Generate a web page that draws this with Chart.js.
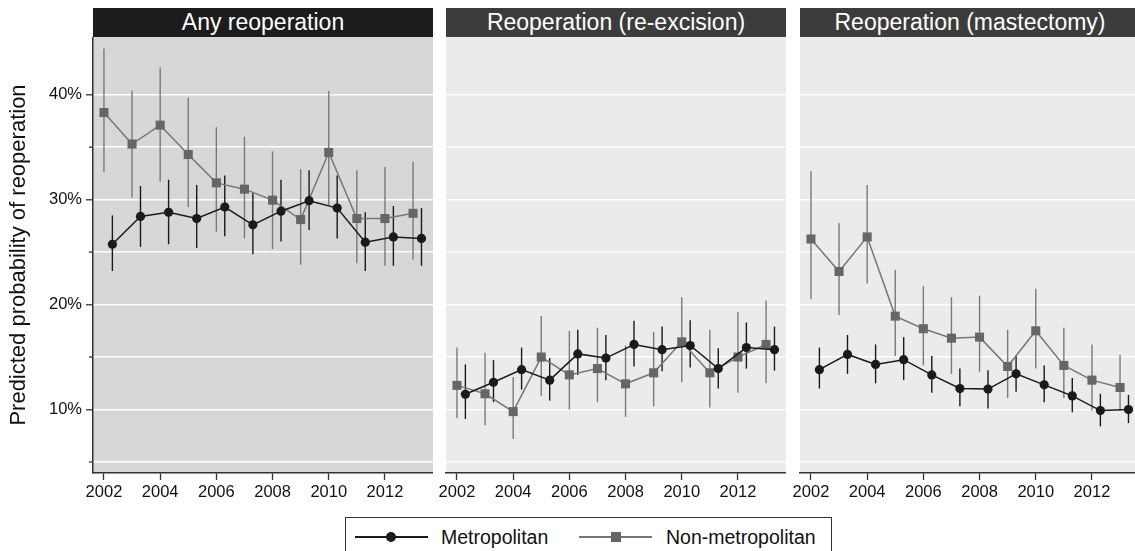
<!DOCTYPE html>
<html>
<head>
<meta charset="utf-8">
<script src="https://cdn.jsdelivr.net/npm/chart.js@4"></script>
<style>
  html, body { margin: 0; padding: 0; background: #fff; overflow: hidden; }
  body { width: 1135px; height: 551px; position: relative; font-family: "Liberation Sans", Arial, sans-serif; }
  canvas { position: absolute; top: 37px; }
  .header {
    position: absolute; top: 8px; height: 29px; line-height: 29px;
    color: #fff; font-size: 23px; text-align: center; white-space: nowrap;
  }
  #legend {
    position: absolute; left: 345px; top: 517px; width: 485px; height: 40px;
    border: 1px solid #333; background: #fff; font-size: 19.5px; color: #111;
  }
  .item { position: absolute; top: 8px; height: 22px; line-height: 22px; }
  .sym { position: absolute; top: 11px; height: 0; }
  .sym .ln { position: absolute; left: 0; right: 0; top: -1px; height: 1.5px; }
  .sym .mk { position: absolute; }
</style>
</head>
<body>

<div class="header" style="left:93px;width:340px;background:#1c1c1c">Any reoperation</div>
<div class="header" style="left:446px;width:340px;background:#3c3c3c">Reoperation (re-excision)</div>
<div class="header" style="left:800px;width:340px;background:#3c3c3c">Reoperation (mastectomy)</div>

<canvas id="anyChart" width="433" height="476" style="left:0px"></canvas>
<canvas id="reChart" width="360" height="476" style="left:426px"></canvas>
<canvas id="mxChart" width="360" height="476" style="left:780px"></canvas>

<div id="legend">
  <div class="sym" style="left:9px;width:73px;top:19px">
    <div class="ln" style="background:#1a1a1a"></div>
    <div class="mk" style="left:31px;top:-5px;width:10px;height:10px;border-radius:50%;background:#1a1a1a"></div>
  </div>
  <div class="item" style="left:95px">Metropolitan</div>
  <div class="sym" style="left:233px;width:73px;top:19px">
    <div class="ln" style="background:#777"></div>
    <div class="mk" style="left:32px;top:-5px;width:10px;height:10px;background:#666"></div>
  </div>
  <div class="item" style="left:320px">Non-metropolitan</div>
</div>

<script>
const years = [2002, 2003, 2004, 2005, 2006, 2007, 2008, 2009, 2010, 2011, 2012, 2013];
const xTicks = [2002, 2004, 2006, 2008, 2010, 2012];
const yTicks = [5, 10, 15, 20, 25, 30, 35, 40];

// Any reoperation
const anyMetro = [25.75, 28.4, 28.8, 28.2, 29.3, 27.6, 28.9, 29.9, 29.2, 25.95, 26.45, 26.3];
const anyMetroLo = [23.2, 25.5, 25.75, 25.4, 26.5, 24.8, 26.0, 27.1, 26.3, 23.2, 23.7, 23.7];
const anyMetroHi = [28.5, 31.3, 31.9, 31.4, 32.3, 30.6, 31.9, 32.8, 32.3, 28.8, 29.4, 29.2];
const anyNonMetro = [38.3, 35.3, 37.1, 34.3, 31.6, 31.0, 29.95, 28.1, 34.5, 28.2, 28.2, 28.7];
const anyNonMetroLo = [32.6, 30.2, 31.7, 29.3, 26.95, 26.3, 25.3, 23.8, 29.5, 23.95, 23.7, 24.3];
const anyNonMetroHi = [44.4, 40.4, 42.6, 39.7, 36.9, 36.0, 34.6, 32.9, 40.35, 32.8, 33.1, 33.6];

// Re-excision
const reMetro = [11.45, 12.6, 13.8, 12.8, 15.3, 14.9, 16.2, 15.7, 16.1, 13.9, 15.9, 15.7];
const reMetroLo = [9.1, 10.7, 11.9, 10.85, 13.3, 12.8, 14.1, 13.65, 14.0, 12.0, 13.9, 13.7];
const reMetroHi = [14.3, 14.7, 15.9, 14.9, 17.6, 17.1, 18.45, 17.9, 18.5, 15.85, 18.3, 17.9];
const reNonMetro = [12.3, 11.5, 9.8, 15.0, 13.3, 13.9, 12.45, 13.5, 16.45, 13.5, 15.0, 16.2];
const reNonMetroLo = [9.2, 8.5, 7.2, 11.3, 10.0, 10.7, 9.3, 10.3, 12.6, 10.2, 11.6, 12.5];
const reNonMetroHi = [15.9, 15.4, 13.1, 18.9, 17.5, 17.8, 16.1, 17.4, 20.7, 17.6, 19.3, 20.4];

// Mastectomy
const mxMetro = [13.8, 15.25, 14.3, 14.75, 13.3, 12.0, 11.95, 13.4, 12.35, 11.3, 9.9, 10.0];
const mxMetroLo = [12.0, 13.4, 12.5, 12.8, 11.6, 10.3, 10.1, 11.7, 10.7, 9.75, 8.4, 8.7];
const mxMetroHi = [15.9, 17.1, 16.2, 16.9, 15.1, 13.9, 13.75, 15.1, 14.2, 13.0, 11.5, 11.4];
const mxNonMetro = [26.25, 23.15, 26.45, 18.9, 17.7, 16.8, 16.9, 14.1, 17.5, 14.2, 12.8, 12.1];
const mxNonMetroLo = [20.5, 19.0, 22.0, 15.1, 14.2, 13.4, 13.6, 11.1, 13.9, 11.1, 9.9, 9.9];
const mxNonMetroHi = [32.7, 27.75, 31.4, 23.3, 21.75, 20.7, 20.85, 17.6, 21.5, 17.8, 16.2, 15.2];

// metro markers sit a little to the right of each year
const METRO_SHIFT = 0.3;
const AXIS_COLOR = "#333";

const panelBg = {
  id: "panelBg",
  beforeDraw(chart, args, opts) {
    const { ctx, chartArea: a } = chart;
    ctx.save();
    ctx.fillStyle = opts.color;
    ctx.fillRect(a.left, a.top, a.right - a.left, a.bottom - a.top);
    ctx.restore();
  }
};

// short ticks for the unlabelled 5% steps
const minorTicks = {
  id: "minorTicks",
  afterDraw(chart, args, opts) {
    if (!opts.show) return;
    const { ctx, chartArea: a, scales: { y } } = chart;
    ctx.save();
    ctx.strokeStyle = AXIS_COLOR;
    ctx.lineWidth = 1.3;
    yTicks.filter(v => v % 10 !== 0).forEach(v => {
      const py = y.getPixelForValue(v);
      ctx.beginPath();
      ctx.moveTo(a.left - 4, py);
      ctx.lineTo(a.left, py);
      ctx.stroke();
    });
    ctx.restore();
  }
};

const errorBars = {
  id: "errorBars",
  beforeDatasetsDraw(chart) {
    const { ctx, chartArea: a, scales: { x, y } } = chart;
    ctx.save();
    ctx.beginPath();
    ctx.rect(a.left, a.top, a.width, a.height);
    ctx.clip();
    chart.data.datasets.slice().reverse().forEach(ds => {
      ctx.strokeStyle = ds.barColor;
      ctx.lineWidth = 1.4;
      ds.data.forEach((p, i) => {
        const px = x.getPixelForValue(p.x);
        ctx.beginPath();
        ctx.moveTo(px, y.getPixelForValue(ds.lo[i]));
        ctx.lineTo(px, y.getPixelForValue(ds.hi[i]));
        ctx.stroke();
      });
    });
    ctx.restore();
  }
};

function makePanel(id, bg, showY, padLeft, metro, metroLo, metroHi, non, nonLo, nonHi) {
  return new Chart(document.getElementById(id), {
    type: "line",
    data: {
      datasets: [
        {
          label: "Metropolitan",
          data: years.map((yr, i) => ({ x: yr + METRO_SHIFT, y: metro[i] })),
          lo: metroLo, hi: metroHi, barColor: "#1a1a1a",
          borderColor: "#1a1a1a", borderWidth: 1.5,
          pointStyle: "circle", pointRadius: 4.6,
          pointBackgroundColor: "#1a1a1a", pointBorderColor: "#1a1a1a", pointBorderWidth: 0
        },
        {
          label: "Non-metropolitan",
          data: years.map((yr, i) => ({ x: yr, y: non[i] })),
          lo: nonLo, hi: nonHi, barColor: "#7a7a7a",
          borderColor: "#777", borderWidth: 1.5,
          pointStyle: "rect", pointRadius: 6.4,
          pointBackgroundColor: "#666", pointBorderColor: "#666", pointBorderWidth: 0
        }
      ]
    },
    options: {
      responsive: false,
      animation: false,
      layout: { padding: { left: padLeft, right: 0, top: 0, bottom: 0 }, autoPadding: false },
      plugins: {
        legend: { display: false },
        tooltip: { enabled: false },
        panelBg: { color: bg },
        minorTicks: { show: showY }
      },
      scales: {
        x: {
          type: "linear",
          min: 2001.61,
          max: 2013.71,
          afterBuildTicks: s => { s.ticks = xTicks.map(v => ({ value: v })); },
          afterFit: s => { s.height = 40; s.paddingLeft = 0; s.paddingRight = 0; },
          ticks: {
            callback: v => String(v),
            color: "#111",
            font: { family: "Liberation Sans, Arial", size: 16.5 },
            padding: 3,
            maxRotation: 0
          },
          grid: { drawOnChartArea: false, tickLength: 7, tickColor: AXIS_COLOR, tickWidth: 1.3 },
          border: { display: true, color: AXIS_COLOR, width: 1.5 }
        },
        y: {
          type: "linear",
          min: 3.95,
          max: 45.5,
          afterBuildTicks: s => { s.ticks = yTicks.map(v => ({ value: v })); },
          afterFit: s => { s.width = showY ? 93 : 0; s.paddingTop = 0; s.paddingBottom = 0; },
          title: {
            display: showY,
            text: "Predicted probability of reoperation",
            color: "#111",
            font: { family: "Liberation Sans, Arial", size: 22 },
            padding: { top: 6, bottom: 0 }
          },
          ticks: {
            display: showY,
            callback: v => (v % 10 === 0 ? v + "%" : ""),
            color: "#111",
            font: { family: "Liberation Sans, Arial", size: 16.5 },
            padding: 4
          },
          grid: {
            color: "#fff",
            lineWidth: 1.6,
            drawTicks: showY,
            tickLength: 7,
            tickColor: ctx => (ctx.tick && ctx.tick.value % 10 === 0 ? AXIS_COLOR : "rgba(0,0,0,0)"),
            tickWidth: 1.3
          },
          border: { display: showY, color: AXIS_COLOR, width: 1.5 }
        }
      }
    },
    plugins: [panelBg, errorBars, minorTicks]
  });
}

document.addEventListener("DOMContentLoaded", () => {
  makePanel("anyChart", "#d7d7d7", true, 0, anyMetro, anyMetroLo, anyMetroHi, anyNonMetro, anyNonMetroLo, anyNonMetroHi);
  makePanel("reChart", "#ebebeb", false, 20, reMetro, reMetroLo, reMetroHi, reNonMetro, reNonMetroLo, reNonMetroHi);
  makePanel("mxChart", "#ebebeb", false, 20, mxMetro, mxMetroLo, mxMetroHi, mxNonMetro, mxNonMetroLo, mxNonMetroHi);
});
</script>
</body>
</html>
